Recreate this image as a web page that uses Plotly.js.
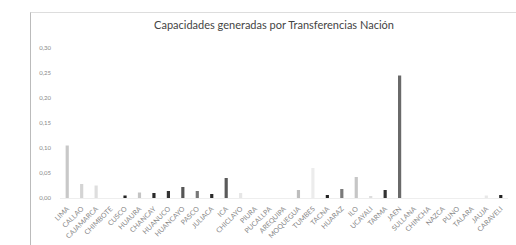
<!DOCTYPE html>
<html>
<head>
<meta charset="utf-8">
<script src="https://cdn.plot.ly/plotly-3.0.1.min.js"></script>
<style>
html,body{margin:0;padding:0;background:#fff;}
#frame{position:absolute;left:30px;top:12px;width:520px;height:260px;border-left:1px solid #bbb;border-top:1px solid #ddd;}
#chart{position:absolute;left:0;top:0;width:516px;height:245px;}
</style>
</head>
<body>
<div id="frame"></div>
<div id="chart"></div>
<script>
const categories = ["LIMA","CALLAO","CAJAMARCA","CHIMBOTE","CUSCO","HUAURA","CHANCAY","HUANUCO","HUANCAYO","PASCO","JULIACA","ICA","CHICLAYO","PIURA","PUCALLPA","AREQUIPA","MOQUEGUA","TUMBES","TACNA","HUARAZ","ILO","UCAYALI","TARMA","JAEN","SULLANA","CHINCHA","NAZCA","PUNO","TALARA","JAUJA","CARAVELI"];
const values = [0.105,0.028,0.025,0,0.005,0.011,0.01,0.014,0.022,0.014,0.008,0.04,0.01,0,0,0,0.016,0.06,0.006,0.018,0.042,0.004,0.016,0.245,0,0,0,0,0,0.005,0.006];
const barColors = ["#c8c8c8","#d4d4d4","#dedede","#eeeeee","#222222","#c4c4c4","#2a2a2a","#333333","#555555","#777777","#2a2a2a","#5a5a5a","#e6e6e6","#eeeeee","#eeeeee","#eeeeee","#bdbdbd","#ececec","#222222","#7a7a7a","#c6c6c6","#dddddd","#333333","#6a6a6a","#eeeeee","#eeeeee","#eeeeee","#eeeeee","#eeeeee","#e8e8e8","#222222"];
const yTicks = [0,0.05,0.10,0.15,0.20,0.25,0.30];

Plotly.newPlot('chart', [{
  type: 'bar',
  x: categories,
  y: values,
  marker: {color: barColors, line: {width: 0}},
  hoverinfo: 'x+y'
}], {
  width: 516, height: 245,
  margin: {l: 60, r: 8, t: 48, b: 47, pad: 0},
  paper_bgcolor: 'rgba(0,0,0,0)',
  plot_bgcolor: 'rgba(0,0,0,0)',
  separators: ',.',
  bargap: 0.78,
  showlegend: false,
  title: {
    text: 'Capacidades generadas por Transferencias Nación',
    font: {family: 'Lato, sans-serif', size: 11, color: '#444'},
    x: 274/516, xref: 'container', xanchor: 'center',
    y: 1 - 25/245, yref: 'container', yanchor: 'middle'
  },
  xaxis: {
    type: 'category',
    tickangle: -45,
    tickfont: {family: 'Lato, sans-serif', size: 7, color: '#888'},
    showgrid: false, zeroline: false,
    showline: true, linecolor: '#eeeeee', linewidth: 1,
    ticks: '', ticklabelstandoff: 3, automargin: false
  },
  yaxis: {
    range: [0, 0.30],
    tickvals: yTicks,
    tickformat: '.2f',
    tickfont: {family: 'Lato, sans-serif', size: 6, color: '#888'},
    showgrid: false, zeroline: false, showline: false,
    ticks: '', ticklen: 0, ticklabelstandoff: 8, automargin: false
  }
}, {displayModeBar: false, staticPlot: true});
</script>
</body>
</html>
